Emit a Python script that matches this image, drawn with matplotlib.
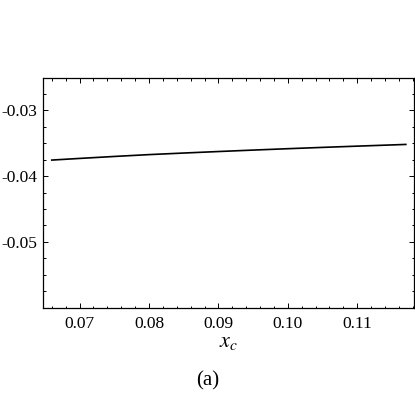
import matplotlib
matplotlib.use('Agg')
import matplotlib.pyplot as plt
from matplotlib.ticker import MultipleLocator, FormatStrFormatter

# values
xc = [0.066, 0.070, 0.075, 0.080, 0.085, 0.090, 0.095, 0.100, 0.105, 0.110, 0.117]
yv = [-0.03755, -0.03730, -0.03700, -0.03672, -0.03648, -0.03625, -0.03603, -0.03582, -0.03562, -0.03543, -0.03517]

plt.rcParams['font.family'] = ['Liberation Serif', 'DejaVu Serif']
plt.rcParams['mathtext.fontset'] = 'stix'

fig = plt.figure(figsize=(4.15, 4.0), dpi=100)
ax = fig.add_axes([0.103, 0.231, 0.895, 0.575])

ax.plot(xc, yv, color='black', lw=1.2)

ax.set_xlim(0.0647, 0.1182)
ax.set_ylim(-0.06, -0.025)
ax.set_xticks([0.07, 0.08, 0.09, 0.10, 0.11])
ax.set_yticks([-0.05, -0.04, -0.03])
ax.xaxis.set_major_formatter(FormatStrFormatter('%.2f'))
ax.set_yticklabels(['-0.05', '-0.04', '-0.03'])
ax.xaxis.set_minor_locator(MultipleLocator(0.002))
ax.yaxis.set_minor_locator(MultipleLocator(0.0025))

ax.tick_params(which='both', direction='in', top=True, right=True, labelsize=12.5, width=0.7)
ax.tick_params(which='major', length=3.5)
ax.tick_params(which='minor', length=1.8)
ax.tick_params(axis='y', pad=4)
ax.tick_params(axis='x', pad=6)
for s in ax.spines.values():
    s.set_linewidth(0.9)

ax.set_xlabel(r'$x_c$', fontsize=16, labelpad=1)
fig.text(0.5, 0.048, '(a)', ha='center', va='center', fontsize=15)

fig.savefig('out.png', dpi=100)
